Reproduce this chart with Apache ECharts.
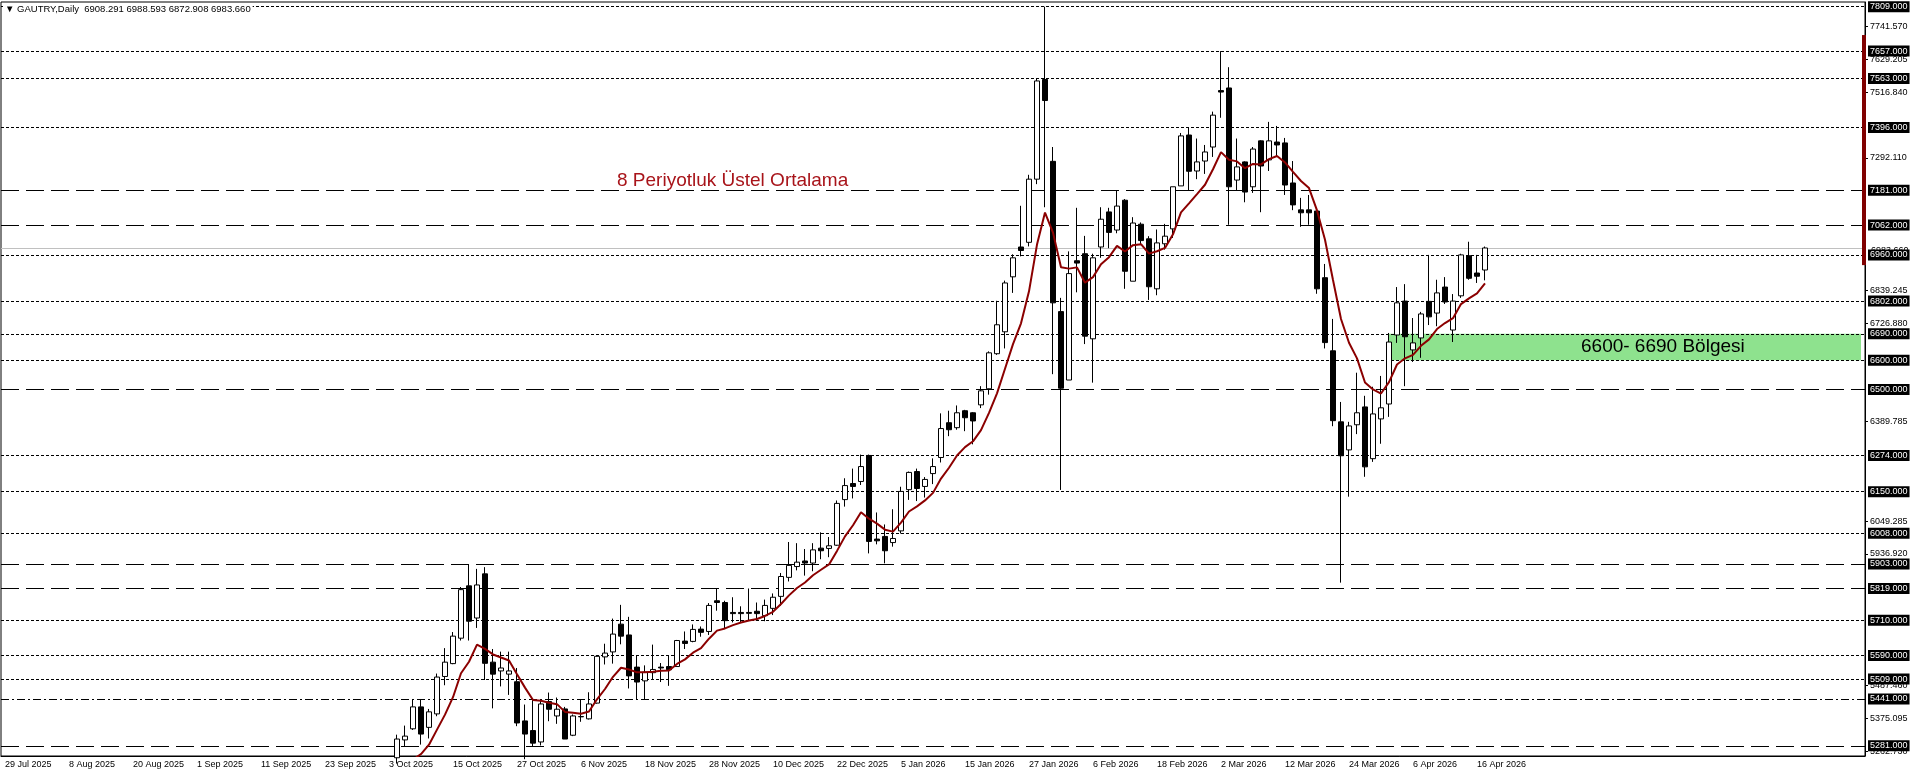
<!DOCTYPE html>
<html>
<head>
<meta charset="utf-8">
<script src="https://cdn.jsdelivr.net/npm/echarts@6/dist/echarts.min.js"></script>
<style>
  html, body { margin: 0; padding: 0; background: #fff; }
  #chart { width: 1916px; height: 776px; }
</style>
</head>
<body>
<div id="chart"></div>
<script>
// x axis labels, one every 8 bars starting at bar 0
const xLabels = ['29 Jul 2025', '8 Aug 2025', '20 Aug 2025', '1 Sep 2025', '11 Sep 2025', '23 Sep 2025',
  '3 Oct 2025', '15 Oct 2025', '27 Oct 2025', '6 Nov 2025', '18 Nov 2025', '28 Nov 2025',
  '10 Dec 2025', '22 Dec 2025', '5 Jan 2026', '15 Jan 2026', '27 Jan 2026', '6 Feb 2026',
  '18 Feb 2026', '2 Mar 2026', '12 Mar 2026', '24 Mar 2026', '6 Apr 2026', '16 Apr 2026'];
const labelStep = 8;
const slotCount = 233;   // bars + empty right shift
const firstBar = 49;     // earlier bars are below the visible range

const opens = [
  5240, 5301, 5339, 5414, 5344, 5390, 5518, 5562,
  5649, 5828, 5718, 5869, 5567, 5537, 5526, 5500,
  5366, 5333, 5294, 5432, 5383, 5407, 5317, 5381,
  5373, 5427, 5585, 5602, 5697, 5660, 5550, 5503,
  5531, 5550, 5552, 5552, 5639, 5638, 5680, 5672,
  5777, 5771, 5737, 5737, 5737, 5741, 5726, 5751,
  5792, 5857, 5894, 5913, 5906, 5957, 5956, 5967,
  6123, 6178, 6185, 6274, 5988, 5997, 5976, 6016,
  6157, 6219, 6168, 6212, 6267, 6386, 6369, 6427,
  6420, 6447, 6502, 6622, 6697, 6885, 6987, 7003,
  7219, 7560, 7280, 6766, 6532, 6940, 6964, 6673,
  6987, 7107, 7045, 7147, 6870, 7065, 7015, 6844,
  6998, 7049, 7196, 7370, 7247, 7281, 7329, 7522,
  7531, 7216, 7278, 7193, 7350, 7285, 7346, 7343,
  7206, 7114, 7114, 7110, 6882, 6632, 6389, 6293,
  6379, 6440, 6263, 6399, 6450, 6686, 6802, 6635,
  6676, 6801, 6761, 6850, 6703, 6820, 6957, 6898,
  6908.291
];
const closes = [
  5304, 5314, 5414, 5321, 5397, 5516, 5567, 5656,
  5815, 5707, 5831, 5563, 5526, 5547, 5537, 5359,
  5321, 5290, 5424, 5406, 5406, 5304, 5383, 5380,
  5424, 5587, 5598, 5663, 5656, 5520, 5499, 5533,
  5542, 5547, 5541, 5641, 5631, 5679, 5669, 5761,
  5771, 5709, 5733, 5733, 5734, 5733, 5761, 5789,
  5860, 5898, 5909, 5906, 5951, 5948, 5965, 6110,
  6171, 6168, 6236, 5980, 5982, 5948, 5990, 6151,
  6216, 6161, 6192, 6236, 6366, 6362, 6420, 6403,
  6392, 6495, 6625, 6721, 6864, 6950, 6975, 7219,
  7555, 7488, 6796, 6504, 6896, 6932, 6682, 6950,
  7082, 7037, 7127, 6904, 7069, 7009, 6851, 7001,
  7024, 7193, 7367, 7246, 7278, 7312, 7438, 7517,
  7193, 7261, 7175, 7322, 7264, 7350, 7336, 7199,
  7131, 7104, 7104, 6844, 6660, 6393, 6273, 6375,
  6420, 6235, 6416, 6437, 6662, 6796, 6680, 6659,
  6758, 6748, 6830, 6799, 6802, 6960, 6880, 6887,
  6983.660
];
const lows = [
  5220, 5279, 5335, 5285, 5306, 5382, 5488, 5560,
  5641, 5641, 5684, 5506, 5409, 5484, 5455, 5348,
  5235, 5279, 5282, 5365, 5356, 5304, 5314, 5363,
  5371, 5425, 5559, 5562, 5628, 5477, 5441, 5441,
  5507, 5499, 5486, 5552, 5612, 5635, 5654, 5660,
  5743, 5683, 5703, 5703, 5711, 5711, 5707, 5728,
  5760, 5843, 5881, 5863, 5878, 5919, 5926, 5965,
  6099, 6127, 6173, 5939, 5970, 5905, 5962, 6007,
  6122, 6118, 6130, 6176, 6250, 6340, 6362, 6357,
  6312, 6436, 6482, 6618, 6640, 6830, 6955, 6989,
  7202, 7123, 6552, 6156, 6532, 6832, 6655, 6523,
  6950, 6983, 7034, 6844, 6870, 6995, 6806, 6822,
  6978, 7018, 7196, 7181, 7219, 7237, 7295, 7429,
  7063, 7182, 7140, 7172, 7106, 7247, 7295, 7165,
  7113, 7056, 7063, 6827, 6640, 6374, 5839, 6133,
  6347, 6201, 6252, 6314, 6406, 6659, 6511, 6594,
  6608, 6720, 6716, 6792, 6662, 6813, 6875, 6864,
  6872.908
];
const highs = [
  5319, 5350, 5441, 5441, 5407, 5528, 5615, 5670,
  5824, 5902, 5886, 5892, 5612, 5603, 5603, 5547,
  5422, 5441, 5441, 5463, 5446, 5414, 5388, 5441,
  5464, 5589, 5630, 5716, 5763, 5722, 5589, 5556,
  5627, 5564, 5591, 5643, 5672, 5696, 5689, 5769,
  5819, 5777, 5789, 5758, 5819, 5771, 5781, 5802,
  5872, 5978, 5974, 5954, 5974, 6011, 5995, 6120,
  6196, 6229, 6277, 6277, 6079, 6038, 6090, 6167,
  6219, 6229, 6200, 6264, 6418, 6427, 6445, 6430,
  6422, 6511, 6630, 6803, 6872, 6962, 7128, 7234,
  7562, 7809, 7329, 6813, 6972, 7121, 7025, 6964,
  7123, 7121, 7181, 7151, 7089, 7071, 7024, 7047,
  7066, 7193, 7377, 7394, 7358, 7336, 7450, 7657,
  7602, 7358, 7280, 7329, 7352, 7415, 7401, 7360,
  7281, 7155, 7165, 7117, 6929, 6741, 6457, 6389,
  6557, 6478, 6509, 6546, 6693, 6850, 6860, 6744,
  6765, 6960, 6875, 6884, 6826, 6964, 7005, 6960,
  6988.593
];

const emaPeriod = 8;
const emaSeed = 5098;   // EMA on the bar before firstBar

// price axis
const yMin = 5246, yMax = 7825;
const yTickLabels = [7741.570, 7629.205, 7516.840, 7292.110, 6839.245, 6726.880,
  6389.785, 6049.285, 5936.920, 5487.460, 5375.095, 5262.730];

// horizontal lines
const levelsDot = [7809, 7657, 7563, 7396, 6960, 6802, 6690, 6600, 6274, 6150, 6008, 5710, 5590, 5509];
const levelsDash = [7181, 7062, 6500, 5903, 5819, 5281];
const levelsDashDot = [5441];
const lastPrice = 6983.660;

// green zone
const zoneLow = 6600, zoneHigh = 6690, zoneStartBar = 173;
const zoneText = '6600- 6690 Bölgesi';
const zoneTextAt = [197, 6645];

const emaText = '8 Periyotluk Üstel Ortalama';
const emaTextAt = [77, 7215];

// dark red range bar by the price scale
const rangeBar = [6925, 7712];

const FONT = 'Liberation Sans';

const categories = [], candles = [], ema = [];
let prev = emaSeed;
for (let i = 0; i < slotCount; i++) {
  categories.push(i);
  const k = i - firstBar;
  if (k >= 0 && k < opens.length) {
    candles.push([opens[k], closes[k], lows[k], highs[k]]);
    prev = prev + (closes[k] - prev) * 2 / (emaPeriod + 1);
    ema.push(prev);
  } else {
    candles.push('-');
    ema.push(i === firstBar - 1 ? emaSeed : '-');
  }
}

const boxLabel = {
  show: true, position: 'end', distance: 3,
  formatter: p => Number(p.value).toFixed(3),
  backgroundColor: '#000', color: '#fff',
  fontSize: 9, fontFamily: FONT, padding: [1, 2, 1, 2]
};
const levelLine = (v, type) => ({ yAxis: v, lineStyle: { type, color: '#000', width: 1 } });
const lineData = [
  { yAxis: lastPrice, lineStyle: { type: 'solid', color: '#c0c0c0', width: 1 },
    label: { backgroundColor: 'transparent', color: '#000', padding: [0, 2, 0, 3], offset: [0, 3] } }
].concat(
  levelsDot.map(v => levelLine(v, [3, 2])),
  levelsDash.map(v => levelLine(v, [18, 7])),
  levelsDashDot.map(v => levelLine(v, [8, 3, 2, 3]))
);

const last = opens.length - 1;
const header = '\u25BC GAUTRY,Daily  ' + [opens[last], highs[last], lows[last], closes[last]]
  .map(v => v.toFixed(3)).join(' ');

const chart = echarts.init(document.getElementById('chart'));
chart.setOption({
  animation: false,
  backgroundColor: '#fff',
  title: {
    text: header, left: 3, top: 4, padding: [0, 2],
    backgroundColor: '#fff',
    textStyle: { fontSize: 9.5, fontWeight: 'normal', color: '#000', fontFamily: FONT }
  },
  grid: { left: 1, right: 51, top: 2, bottom: 20, show: true, borderColor: '#000', borderWidth: 1 },
  xAxis: {
    type: 'category',
    data: categories,
    boundaryGap: true,
    axisLine: { lineStyle: { color: '#000' } },
    axisTick: {
      alignWithLabel: true, length: 3, lineStyle: { color: '#000' },
      interval: i => i % labelStep === 0 && i / labelStep < xLabels.length
    },
    axisLabel: {
      interval: i => i % labelStep === 0 && i / labelStep < xLabels.length,
      formatter: (v, i) => xLabels[i / labelStep] || '',
      align: 'left', margin: 4, color: '#000', fontSize: 9, fontFamily: FONT
    },
    splitLine: { show: false }
  },
  yAxis: {
    type: 'value',
    position: 'right',
    min: yMin, max: yMax,
    axisLine: { show: true, lineStyle: { color: '#000' } },
    axisTick: { show: true, length: 3, customValues: yTickLabels, lineStyle: { color: '#000' } },
    axisLabel: {
      customValues: yTickLabels, margin: 5,
      formatter: v => v.toFixed(3),
      color: '#000', fontSize: 9, fontFamily: FONT
    },
    splitLine: { show: false }
  },
  series: [
    {
      type: 'candlestick',
      data: candles,
      barWidth: 5,
      z: 2,
      itemStyle: {
        color: '#fff', color0: '#000',
        borderColor: '#000', borderColor0: '#000', borderWidth: 1
      },
      markLine: {
        silent: true, symbol: 'none', z: 1,
        label: boxLabel,
        data: lineData
      },
      markArea: {
        silent: true, z: 0,
        itemStyle: { color: '#8ee28e' },
        data: [[{ xAxis: zoneStartBar, yAxis: zoneHigh }, { xAxis: slotCount - 1, yAxis: zoneLow }]]
      }
    },
    {
      type: 'line',
      data: ema,
      showSymbol: false,
      z: 3,
      lineStyle: { color: '#8b0000', width: 2 },
      markPoint: {
        silent: true, symbol: 'circle', symbolSize: 0, z: 4,
        data: [
          { coord: emaTextAt, label: { show: true, position: 'right', distance: 0, offset: [-4, 0],
            formatter: emaText, color: '#a8141a', fontSize: 19, fontFamily: FONT } },
          { coord: zoneTextAt, label: { show: true, position: 'right', distance: 0,
            formatter: zoneText, color: '#000', fontSize: 19, fontFamily: FONT } }
        ]
      }
    }
  ]
});

const yTop = chart.convertToPixel({ yAxisIndex: 0 }, rangeBar[1]);
const yBot = chart.convertToPixel({ yAxisIndex: 0 }, rangeBar[0]);
const xEdge = chart.getWidth() - 51;
chart.setOption({
  graphic: [{
    type: 'rect', silent: true, z: 100,
    shape: { x: xEdge - 3, y: yTop, width: 4, height: yBot - yTop },
    style: { fill: '#800000' }
  }]
});
</script>
</body>
</html>
